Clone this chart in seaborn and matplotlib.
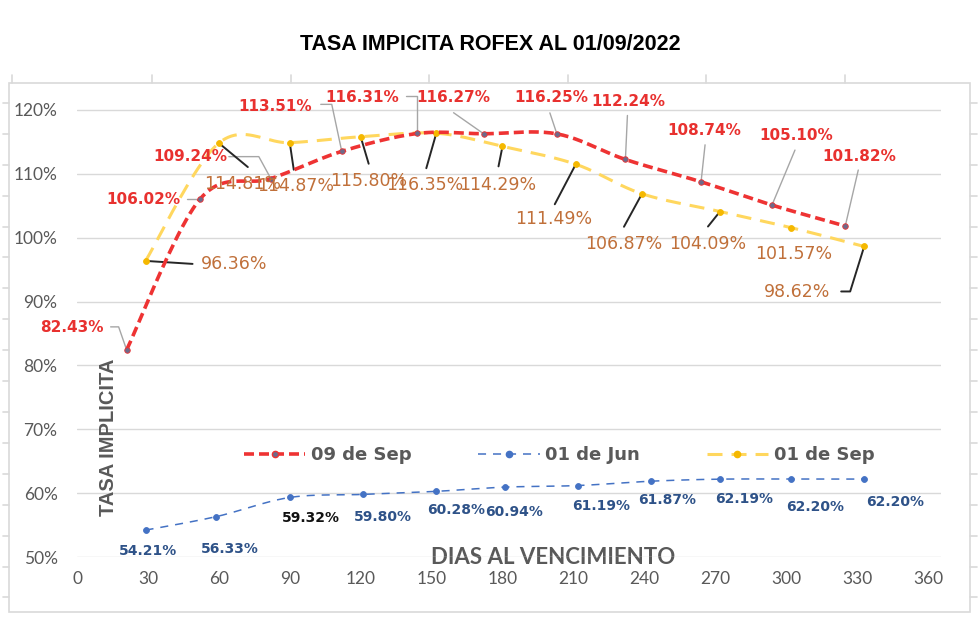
import numpy as np
import pandas as pd
import matplotlib
matplotlib.use("Agg")
import matplotlib.pyplot as plt
from matplotlib import font_manager
from matplotlib.lines import Line2D
from matplotlib.patches import Rectangle
import seaborn as sns

# ---------------- data ----------------
days_sep09 = [21, 52, 82, 112, 144, 172, 203, 232, 264, 294, 325]
tasa_sep09 = [82.43, 106.02, 109.24, 113.51, 116.31, 116.27, 116.25, 112.24, 108.74, 105.10, 101.82]

days_jun01 = [29, 59, 90, 121, 152, 181, 212, 243, 272, 302, 333]
tasa_jun01 = [54.21, 56.33, 59.32, 59.80, 60.28, 60.94, 61.19, 61.87, 62.19, 62.20, 62.20]

days_sep01 = [29, 60, 90, 120, 152, 180, 211, 239, 272, 302, 333]
tasa_sep01 = [96.36, 114.81, 114.87, 115.80, 116.35, 114.29, 111.49, 106.87, 104.09, 101.57, 98.62]

series_names = ["09 de Sep", "01 de Jun", "01 de Sep"]
x_ticks = [0, 30, 60, 90, 120, 150, 180, 210, 240, 270, 300, 330, 360]
y_ticks = [50, 60, 70, 80, 90, 100, 110, 120]
title = "TASA IMPICITA ROFEX AL 01/09/2022"
x_label = "DIAS AL VENCIMIENTO"
y_label = "TASA IMPLICITA"

# ---------------- label placement (pixel offsets from the point, y down) ----------------
lab_off_sep09 = [(-55, -22), (-57, 0), (-81, -22), (-67, -45), (-55, -36), (-30, -36),
                 (-6, -36), (3, -58), (3, -51), (24, -70), (14, -70)]
lead_sep09 = [[(-16, -23), (-8, -23), (0, 0)], [(-13, 0), (0, 0)],
              [(-42, -22), (-12, -22), (0, 0)], [(-21, -47), (-10, -47), (0, 0)],
              [(-11, -37), (0, -37), (0, 0)], [(-30, -21), (0, 0)], [(-7, -21), (0, 0)],
              [(2, -44), (0, 0)], [(4, -37), (0, 0)], [(23, -55), (0, 0)], [(13, -56), (0, 0)]]
lab_off_sep01 = [(89, 3), (24, 41), (6, 43), (8, 44), (-12, 52), (-5, 39), (-22, 55),
                 (-18, 50), (-12, 32), (3, 26), (-67, 46)]
lead_sep01 = [[(0, 0), (47, 3)], [(0, 0), (29, 24)], [(0, 0), (4, 27)], [(0, 0), (8, 27)],
              [(0, 0), (-10, 35)], [(0, 0), (-4, 20)], [(0, 0), (-21, 40)],
              [(0, 0), (-18, 33)], [(0, 0), (-12, 15)], None,
              [(0, 0), (-14, 45), (-23, 45)]]
lab_off_jun01 = [(2, 21), (13, 32), (21, 21), (20, 23), (20, 19), (9, 25), (23, 20),
                 (16, 19), (24, 20), (24, 28), (31, 23)]

# ---------------- style ----------------
sns.set_theme(style="white")
names = {f.name for f in font_manager.fontManager.ttflist}
narrow = "Liberation Sans Narrow" if "Liberation Sans Narrow" in names else "Liberation Sans"
plt.rcParams["font.family"] = ["DejaVu Sans"]
plt.rcParams["lines.scale_dashes"] = False

RED = "#EE3333"
RED_TXT = "#E8312F"
YEL = "#FFD75E"
YEL_MK = "#F5B800"
YEL_TXT = "#C0703A"
BLUE = "#4472C4"
BLUE_TXT = "#2E5288"
GRAY = "#595959"

W, H, DPI = 980, 617, 100
fig = plt.figure(figsize=(W / DPI, H / DPI), dpi=DPI)
fig.patch.set_facecolor("white")
ax = fig.add_axes([77 / W, 1 - 557 / H, (941 - 77) / W, (557 - 85) / H])
ax.set_xlim(0, 365.5)
ax.set_ylim(50, 123.9)


def smooth(x, y, n=24):
    P = np.column_stack([x, y]).astype(float)
    P = np.vstack([P[0], P, P[-1]])
    out = []
    t = np.linspace(0, 1, n)[:, None]
    for i in range(1, len(P) - 2):
        p0, p1, p2, p3 = P[i - 1], P[i], P[i + 1], P[i + 2]
        seg = 0.5 * ((2 * p1) + (-p0 + p2) * t + (2 * p0 - 5 * p1 + 4 * p2 - p3) * t ** 2
                     + (-p0 + 3 * p1 - 3 * p2 + p3) * t ** 3)
        out.append(seg if i == 1 else seg[1:])
    S = np.vstack(out)
    return S[:, 0], S[:, 1]


df = pd.concat([
    pd.DataFrame({"dias": days_sep09, "tasa": tasa_sep09, "serie": series_names[0]}),
    pd.DataFrame({"dias": days_jun01, "tasa": tasa_jun01, "serie": series_names[1]}),
    pd.DataFrame({"dias": days_sep01, "tasa": tasa_sep01, "serie": series_names[2]}),
])

styles = {
    series_names[0]: dict(color=RED, lw=2.6, ls=(0, (7.2, 3.6)), mk="#6E6A8A", mec=RED, ms=16),
    series_names[1]: dict(color=BLUE, lw=1.1, ls=(0, (5.8, 5.0)), mk=BLUE, mec=BLUE, ms=18),
    series_names[2]: dict(color=YEL, lw=2.2, ls=(0, (10.8, 6.5)), mk=YEL_MK, mec=YEL_MK, ms=18),
}
zo = {series_names[0]: 4, series_names[1]: 3, series_names[2]: 3}

for name in [series_names[2], series_names[1], series_names[0]]:
    d = df[df.serie == name]
    st = styles[name]
    sx, sy = smooth(d.dias.values, d.tasa.values)
    sns.lineplot(x=sx, y=sy, sort=False, estimator=None, color=st["color"], linewidth=st["lw"],
                 linestyle=st["ls"], ax=ax, zorder=zo[name], legend=False)
    sns.scatterplot(x=d.dias, y=d.tasa, color=st["mk"], edgecolor=st["mec"], linewidth=0.6,
                    s=st["ms"], ax=ax, zorder=zo[name] + 1, legend=False)

# axes cosmetics
ax.set_xticks(x_ticks)
ax.set_xticklabels([str(v) for v in x_ticks])
ax.set_yticks(y_ticks)
ax.set_yticklabels([f"{v}%" for v in y_ticks])
ax.tick_params(axis="both", length=0, colors=GRAY, labelsize=12.5)
ax.tick_params(axis="y", pad=14)
ax.tick_params(axis="x", pad=10)
for lab in ax.get_xticklabels() + ax.get_yticklabels():
    lab.set_fontfamily("Lato")
ax.grid(axis="y", color="#D9D9D9", lw=1)
ax.grid(axis="x", visible=False)
for s in ax.spines.values():
    s.set_visible(False)

ax.set_xlabel(x_label, fontfamily="Lato", fontweight="bold", fontsize=16, color=GRAY)
ax.xaxis.set_label_coords(0.551, 0.0)
ax.xaxis.label.set_va("center")
ax.set_ylabel(y_label, fontfamily=narrow, fontweight="bold", fontsize=14.5, color=GRAY)
ax.yaxis.set_label_coords(0.037, 0.254)
ax.yaxis.label.set_va("center")


def pix_path(x, y, offs):
    base = ax.transData.transform((x, y))
    pts = np.array([base + np.array([dx, -dy]) for dx, dy in offs])
    return ax.transData.inverted().transform(pts)


# data labels
for x, y, off, lead in zip(days_sep09, tasa_sep09, lab_off_sep09, lead_sep09):
    p = pix_path(x, y, lead)
    ax.plot(p[:, 0], p[:, 1], color="#A6A6A6", lw=1.0, zorder=2, clip_on=False)
    ax.annotate(f"{y:.2f}%", xy=(x, y), xytext=(off[0], -off[1]), textcoords="offset pixels",
                ha="center", va="center", color=RED_TXT, fontsize=11, fontweight="bold", zorder=6)

for x, y, off, lead in zip(days_sep01, tasa_sep01, lab_off_sep01, lead_sep01):
    if lead is not None:
        p = pix_path(x, y, lead)
        ax.plot(p[:, 0], p[:, 1], color="#262626", lw=1.4, zorder=2, clip_on=False)
    ax.annotate(f"{y:.2f}%", xy=(x, y), xytext=(off[0], -off[1]), textcoords="offset pixels",
                ha="center", va="center", color=YEL_TXT, fontsize=12.5, zorder=6)

for i, (x, y, off) in enumerate(zip(days_jun01, tasa_jun01, lab_off_jun01)):
    ax.annotate(f"{y:.2f}%", xy=(x, y), xytext=(off[0], -off[1]), textcoords="offset pixels",
                ha="center", va="center", color=("#111111" if i == 2 else BLUE_TXT),
                fontsize=10, fontweight="bold", zorder=6)

# legend
handles = []
for name in series_names:
    st = styles[name]
    handles.append(Line2D([0], [0], color=st["color"], lw=st["lw"], ls=st["ls"], marker="o",
                          markersize=4.5, markerfacecolor=st["mk"], markeredgecolor=st["mec"]))
leg = ax.legend(handles, series_names, loc="center", bbox_to_anchor=(0.558, 0.216), ncol=3,
                frameon=False, handlelength=3.4, handletextpad=0.3, columnspacing=3.7,
                prop=dict(family="DejaVu Sans", weight="bold", size=13))
for t in leg.get_texts():
    t.set_color(GRAY)

# title
fig.text(0.5, 1 - 45 / H, title, ha="center", va="center", fontsize=15.5, fontweight="bold",
         fontfamily=narrow, color="black")

# outer chart frame
fig.add_artist(Rectangle((9 / W, 1 - 612 / H), (970 - 9) / W, (612 - 83) / H,
                         transform=fig.transFigure, fill=False, ec="#D9D9D9", lw=1.2))
for xp in [12, 152, 291, 429, 568, 706, 845]:
    fig.add_artist(Line2D([xp / W, xp / W], [1 - 75 / H, 1 - 83 / H], transform=fig.transFigure,
                          color="#D9D9D9", lw=1.2))
for k in range(17):
    yp = 103 + k * 30.9
    if yp < 612:
        fig.add_artist(Line2D([3 / W, 9 / W], [1 - yp / H, 1 - yp / H], transform=fig.transFigure,
                              color="#D9D9D9", lw=1.2))
        fig.add_artist(Line2D([970 / W, 977 / W], [1 - yp / H, 1 - yp / H],
                              transform=fig.transFigure, color="#D9D9D9", lw=1.2))

fig.savefig("out.png", dpi=DPI, facecolor="white")
